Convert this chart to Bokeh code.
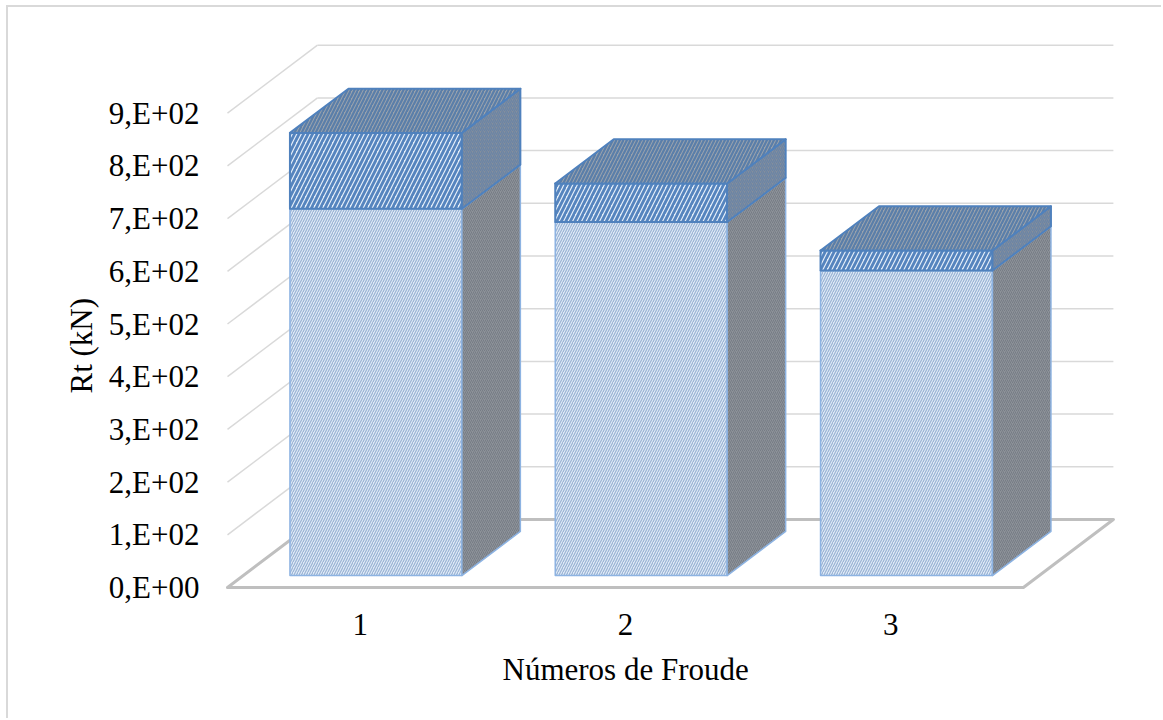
from bokeh.plotting import figure
from bokeh.models import Range1d, FixedTicker, Title
from bokeh.embed import file_html
from bokeh.resources import INLINE

# ---- data -------------------------------------------------------------
froude = [1, 2, 3]
rt_lower = [696, 671, 579]      # lower block of each column (kN)
rt_upper = [144, 73, 38]        # upper block stacked on top (kN)
y_ticks = [0, 100, 200, 300, 400, 500, 600, 700, 800, 900]
y_tick_labels = ["0,E+00", "1,E+02", "2,E+02", "3,E+02", "4,E+02",
                 "5,E+02", "6,E+02", "7,E+02", "8,E+02", "9,E+02"]
x_tick_labels = ["1", "2", "3"]
x_title = "Números de Froude"
y_title = "Rt (kN)"

# ---- layout / projection settings ----------------------------------------
OX, OY = 8, 7                 # canvas offset inside the bordered page
PX_CAT = 265.3                # pixels per category step
PX_VAL = 0.527                # pixels per kN
X0_PX, Y0_PX = 227, 587       # page position of (x=0.5, y=0) on the front plane
FRAME = dict(left=222, right=1118, top=30, bottom=590)
W, H = 1163 - OX, 720 - OY

DX = 90 / PX_CAT              # full floor depth, in category units
DY = 68 / PX_VAL              # full floor depth, in kN units
BAR_W = 0.648                 # column width (category units)
D_FRONT, D_BAR = 0.175, 0.65  # column front depth and column depth (fraction of floor)

FONT = "Liberation Serif"
FONT_SIZE = "31px"

x_start = 0.5 - (X0_PX - FRAME["left"]) / PX_CAT
x_end = 0.5 + (FRAME["right"] - X0_PX) / PX_CAT
y_start = -(FRAME["bottom"] - Y0_PX) / PX_VAL
y_end = (Y0_PX - FRAME["top"]) / PX_VAL

p = figure(width=W, height=H, output_backend="svg", toolbar_location=None,
           x_range=Range1d(x_start, x_end), y_range=Range1d(y_start, y_end),
           min_border_left=FRAME["left"] - OX, min_border_right=W - (FRAME["right"] - OX),
           min_border_top=FRAME["top"] - OY, min_border_bottom=H - (FRAME["bottom"] - OY),
           background_fill_color="white", border_fill_color="white",
           outline_line_color=None)
p.styles = {"margin-left": "6px", "margin-top": "5px",
            "border-left": "2px solid #D9D9D9", "border-top": "2px solid #D9D9D9"}
p.grid.visible = False

# ---- walls and floor -----------------------------------------------------------
xl, xr = 0.5, len(froude) + 0.5
grid_vals = [v for v in y_ticks if v > 0]
p.multi_line(xs=[[xl + DX, xr + DX] for _ in grid_vals],
             ys=[[v + DY, v + DY] for v in grid_vals],
             line_color="#D9D9D9", line_width=1.5)
p.multi_line(xs=[[xl, xl + DX] for _ in grid_vals],
             ys=[[v, v + DY] for v in grid_vals],
             line_color="#D9D9D9", line_width=1.5)
p.patch(x=[xl, xr, xr + DX, xl + DX], y=[0, 0, DY, DY],
        fill_color="white", line_color="#BFBFBF", line_width=3, line_join="round")


# ---- 3-D stacked columns ------------------------------------------------------
def box_faces(xc, y0, y1):
    fx0 = xc - BAR_W / 2 + D_FRONT * DX
    fx1 = fx0 + BAR_W
    fy0 = y0 + D_FRONT * DY
    fy1 = y1 + D_FRONT * DY
    bx, by = D_BAR * DX, D_BAR * DY
    front = ([fx0, fx1, fx1, fx0], [fy0, fy0, fy1, fy1])
    side = ([fx1, fx1 + bx, fx1 + bx, fx1], [fy0, fy0 + by, fy1 + by, fy1])
    top = ([fx0, fx1, fx1 + bx, fx0 + bx], [fy1, fy1, fy1 + by, fy1 + by])
    return front, side, top


styles = [
    dict(front=dict(fill_color="#DDE9F6", hatch_color="#97B0D2", hatch_scale=5, hatch_weight=1.1),
         side=dict(fill_color="#8D9299", hatch_color="#767C85", hatch_scale=4, hatch_weight=1.0),
         top=dict(fill_color="#8D9AAA", hatch_color="#6585AC", hatch_scale=6, hatch_weight=1.5),
         line_color="#8DB3E2", line_width=1.5),
    dict(front=dict(fill_color="#E4EEF9", hatch_color="#5584BE", hatch_scale=9, hatch_weight=2.8),
         side=dict(fill_color="#858F9B", hatch_color="#6A84A6", hatch_scale=4, hatch_weight=1.3),
         top=dict(fill_color="#9AA2AC", hatch_color="#5A7EA9", hatch_scale=7, hatch_weight=2.2),
         line_color="#4F81BD", line_width=2),
]

for xc, lo, hi in zip(froude, rt_lower, rt_upper):
    for (y0, y1), st in zip([(0, lo), (lo, lo + hi)], styles):
        for face, (xs, ys) in zip(["front", "side", "top"], box_faces(xc, y0, y1)):
            p.patch(x=xs, y=ys, hatch_pattern="/", line_color=st["line_color"],
                    line_width=st["line_width"], line_join="round", **st[face])

# ---- axes --------------------------------------------------------------------
yax = p.yaxis[0]
yax.ticker = FixedTicker(ticks=y_ticks)
yax.major_label_overrides = dict(zip(y_ticks, y_tick_labels))

xax = p.xaxis[0]
xax.ticker = FixedTicker(ticks=froude)
xax.major_label_overrides = dict(zip(froude, x_tick_labels))

for ax in (xax, yax):
    ax.axis_line_color = None
    ax.major_tick_line_color = None
    ax.minor_tick_line_color = None
    ax.major_tick_out = 0
    ax.major_tick_in = 0
    ax.major_label_text_font = FONT
    ax.major_label_text_font_size = FONT_SIZE
    ax.major_label_text_color = "#000000"

yax.major_label_standoff = 23
xax.major_label_standoff = 23

# axis titles, positioned along their panels with a pixel offset
title_style = dict(text_font=FONT, text_font_size=FONT_SIZE, text_font_style="normal",
                   text_color="#000000", align="left")
p.add_layout(Title(text=x_title, offset=280, standoff=24, **title_style), "below")
p.add_layout(Title(text=y_title, offset=197, standoff=14, **title_style), "left")

open("out.html", "w").write(file_html(p, INLINE))
